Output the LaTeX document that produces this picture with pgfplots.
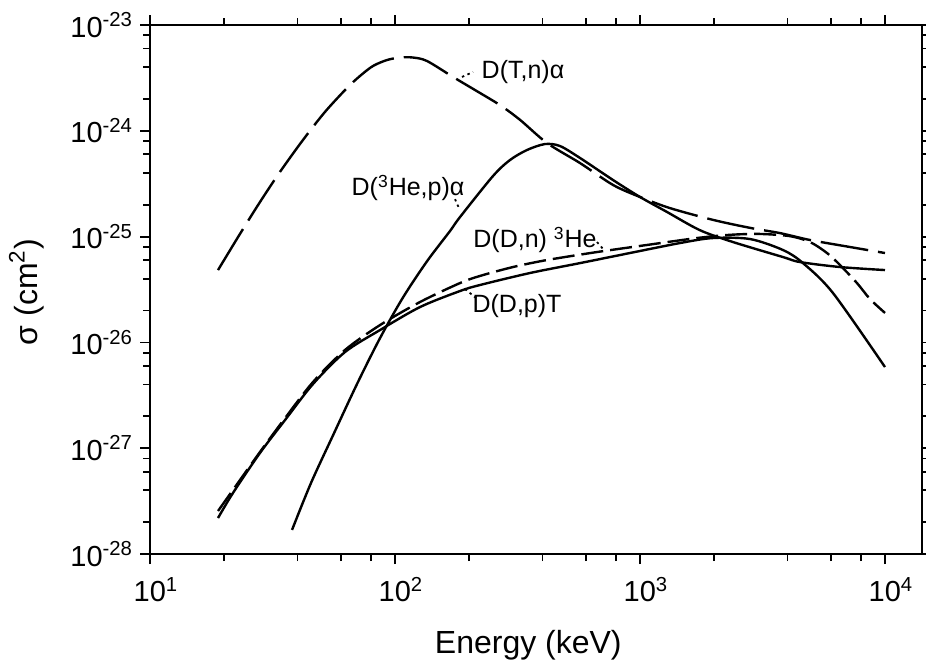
\documentclass[border=0pt]{standalone}
\usepackage{fontspec}
\setmainfont{Liberation Sans}
\usepackage{pgfplots}
\pgfplotsset{compat=1.18}

\begin{document}
\begin{tikzpicture}[
  leader/.style={line width=0.9pt, dash pattern=on 1.2pt off 1.8pt},
  curvelabel/.style={font=\fontsize{12.5}{15}\selectfont},
]
\begin{axis}[
  at={(0,0)}, anchor=south west,
  scale only axis, width=386pt, height=264.5pt,
  xmode=log, ymode=log,
  xmin=10, xmax=14160, ymin=1e-28, ymax=1e-23,
  axis line style={line width=1.1pt},
  tick align=outside,
  major tick length=5pt, minor tick length=3.5pt,
  every tick/.style={line width=0.9pt, black},
  xtick={10,100,1000,10000},
  xticklabels={10\textsuperscript{1},10\textsuperscript{2},10\textsuperscript{3},10\textsuperscript{4}},
  minor xtick={20,40,60,80,200,400,600,800,2000,4000,6000,8000},
  ytick={1e-28,1e-27,1e-26,1e-25,1e-24,1e-23},
  yticklabels={10\textsuperscript{-28},10\textsuperscript{-27},10\textsuperscript{-26},10\textsuperscript{-25},10\textsuperscript{-24},10\textsuperscript{-23}},
  minor ytick={2e-28,4e-28,6e-28,8e-28,2e-27,4e-27,6e-27,8e-27,2e-26,4e-26,6e-26,8e-26,2e-25,4e-25,6e-25,8e-25,2e-24,4e-24,6e-24,8e-24},
  ticklabel style={font=\fontsize{14.5}{17}\selectfont},
  xticklabel style={xshift=3pt, yshift=-3pt},
  xlabel={Energy (keV)},
  ylabel={σ (cm\textsuperscript{2})},
  label style={font=\fontsize{16}{19}\selectfont},
  xlabel style={at={(axis description cs:0.49,0)}, yshift=-45.5pt, anchor=center},
  ylabel style={at={(axis description cs:-0.16,0.495)}, anchor=center},
  clip=false,
]
% D(T,n)alpha
\addplot[black, line width=1.2pt, dash pattern=on 24pt off 5pt, smooth] coordinates {
 (18.95,4.83e-26) (23.29,1.06e-25) (28.1,2.12e-25) (33.9,4.08e-25) (42.1,8.19e-25)
 (51.8,1.51e-24) (63.7,2.54e-24) (71.97,3.30e-24) (81.3,4.10e-24) (92.8,4.67e-24)
 (104.8,4.93e-24) (118.4,4.93e-24) (135.1,4.57e-24) (172.5,3.23e-24) (212.1,2.43e-24)
 (268.3,1.75e-24) (323.8,1.27e-24) (417.3,7.67e-25) (569,4.96e-25) (776,3.08e-25)
 (1000,2.37e-25) (1326,1.86e-25) (1986,1.44e-25) (2812,1.21e-25) (3727,1.08e-25)
 (4942,9.29e-26) (7196,7.98e-26) (10000,7.0e-26)
};
% D(3He,p)alpha
\addplot[black, line width=1.2pt, smooth] coordinates {
 (38.0,1.69e-28) (45.4,4.69e-28) (56.4,1.39e-27) (70.0,4.05e-27) (86.9,1.10e-26)
 (107.8,2.66e-26) (135.1,5.85e-26) (167.7,1.13e-25) (184.2,1.53e-25) (251.2,3.74e-25)
 (294.8,5.30e-25) (345.8,6.59e-25) (409.5,7.50e-25) (471.6,7.18e-25) (569,5.54e-25)
 (776,3.43e-25) (1000,2.37e-25) (1289,1.71e-25) (1757,1.15e-25) (2396,8.89e-26)
 (3835,6.41e-26) (4499,5.75e-26) (6551,5.16e-26) (10000,4.83e-26)
};
% D(D,n)3He
\addplot[black, line width=1.2pt, dash pattern=on 11pt off 3.5pt, smooth] coordinates {
 (18.95,2.55e-28) (21.8,4.03e-28) (28.1,9.20e-28) (35.6,1.93e-27) (46.3,4.23e-27)
 (62.5,8.48e-27) (86.9,1.46e-26) (126.5,2.41e-26) (184.2,3.64e-26) (222.3,4.25e-26)
 (303.2,5.16e-26) (417.3,6.01e-26) (667.5,7.15e-26) (1068,8.34e-26) (1709,9.70e-26)
 (2330,1.04e-25) (3090,1.06e-25) (4095,1.01e-25) (4942,8.89e-26) (5799,7.00e-26)
 (6551,5.39e-26) (7687,3.64e-26) (8687,2.57e-26) (10000,1.90e-26)
};
% D(D,p)T
\addplot[black, line width=1.2pt, smooth] coordinates {
 (18.95,2.19e-28) (21.8,3.77e-28) (28.1,9.01e-28) (35.6,1.85e-27) (46.3,4.05e-27)
 (62.5,8.11e-27) (86.9,1.31e-26) (126.5,2.16e-26) (184.2,3.06e-26) (222.3,3.49e-26)
 (355.7,4.53e-26) (569,5.62e-26) (910,7.00e-26) (1457,8.70e-26) (1986,9.70e-26)
 (2812,9.49e-26) (3835,7.47e-26) (4627,5.62e-26) (6134,2.93e-26) (10000,5.85e-27)
};
% curve labels with dotted leaders
\node[curvelabel] at (axis cs:333,3.6e-24) {D(T,n)α};
\draw[leader] (axis cs:187.7,3.23e-24) -- (axis cs:208.2,3.6e-24);
\node[curvelabel] at (axis cs:113,2.88e-25) {D(\textsuperscript{3}He,p)α};
\draw[leader] (axis cs:175.8,2.26e-25) -- (axis cs:182.5,1.86e-25);
\node[curvelabel] at (axis cs:372.8,9.29e-26) {D(D,n) \textsuperscript{3}He};
\draw[leader] (axis cs:667.5,8.89e-26) -- (axis cs:713,7.47e-26);
\node[curvelabel] at (axis cs:314.8,2.21e-26) {D(D,p)T};
\draw[leader] (axis cs:193.1,3.2e-26) -- (axis cs:214.1,2.63e-26);
\end{axis}
\pgfresetboundingbox
\path[use as bounding box] (-75pt,-54pt) rectangle (388pt,277pt);
\end{tikzpicture}
\end{document}
